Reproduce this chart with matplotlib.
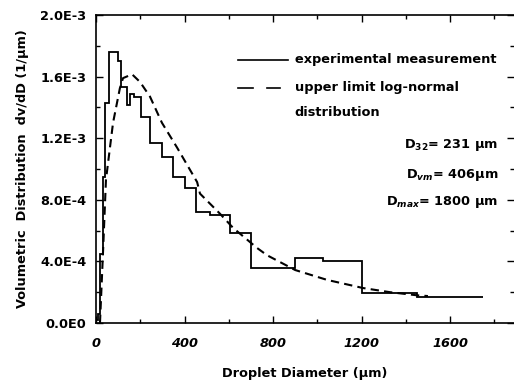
import matplotlib
matplotlib.use("Agg")
import matplotlib.pyplot as plt
from matplotlib.ticker import MultipleLocator, FuncFormatter

# measured histogram (bin edges in um, dv/dD in 1/um)
bin_edges = [0, 10, 20, 30, 41, 59, 99, 113, 140, 154, 172, 203, 244, 298,
             348, 402, 452, 515, 606, 700, 900, 1026, 1200, 1450, 1750]
bin_values = [0.02e-3, 0.06e-3, 0.45e-3, 0.95e-3, 1.43e-3, 1.76e-3, 1.70e-3,
              1.53e-3, 1.415e-3, 1.49e-3, 1.47e-3, 1.34e-3, 1.17e-3, 1.08e-3,
              0.95e-3, 0.876e-3, 0.72e-3, 0.70e-3, 0.584e-3, 0.36e-3, 0.42e-3,
              0.40e-3, 0.195e-3, 0.17e-3]

# upper limit log-normal fit
fit_d = [18, 32, 45, 77, 108, 122, 163, 199, 244, 298, 366, 457, 470, 560,
         620, 728, 773, 900, 1044, 1207, 1329, 1450, 1500]
fit_v = [0.0, 0.47e-3, 0.93e-3, 1.30e-3, 1.525e-3, 1.59e-3, 1.615e-3,
         1.565e-3, 1.47e-3, 1.30e-3, 1.14e-3, 0.915e-3, 0.84e-3, 0.71e-3,
         0.617e-3, 0.487e-3, 0.44e-3, 0.344e-3, 0.28e-3, 0.227e-3, 0.20e-3,
         0.18e-3, 0.175e-3]

y_ticks = [0.0, 4e-4, 8e-4, 1.2e-3, 1.6e-3, 2.0e-3]
y_tick_labels = ["0.0E0", "4.0E-4", "8.0E-4", "1.2E-3", "1.6E-3", "2.0E-3"]

FS = 9.3

plt.rcParams["font.family"] = "DejaVu Sans"
plt.rcParams["font.weight"] = "bold"
plt.rcParams["mathtext.fontset"] = "custom"
plt.rcParams["mathtext.rm"] = "DejaVu Sans:bold"
plt.rcParams["mathtext.it"] = "DejaVu Sans:italic:bold"

fig = plt.figure(figsize=(5.14, 3.85), dpi=100)
fig.patch.set_facecolor("white")
ax = fig.add_axes([96 / 514, 62 / 385, 418 / 514, 308 / 385])

ax.stairs(bin_values, bin_edges, baseline=None, color="black", linewidth=1.3)
ax.plot(fit_d, fit_v, color="black", linewidth=1.5, linestyle=(0, (4, 2.5)))

ax.set_xlim(0, 1889)
ax.set_ylim(0, 2.0e-3)

ax.xaxis.set_major_locator(MultipleLocator(400))
ax.xaxis.set_minor_locator(MultipleLocator(200))
ax.set_yticks(y_ticks)
ax.set_yticklabels(y_tick_labels, fontsize=FS, fontweight="bold")
ax.yaxis.set_minor_locator(MultipleLocator(2e-4))
ax.xaxis.set_major_formatter(FuncFormatter(lambda v, p: f"{v:.0f}"))
for lab in ax.get_xticklabels():
    lab.set_fontstyle("italic")
    lab.set_fontsize(FS)
    lab.set_fontweight("bold")

ax.tick_params(which="both", direction="in", top=True, right=True)
ax.tick_params(which="major", length=5, width=1)
ax.tick_params(which="minor", length=3, width=1)
ax.tick_params(axis="x", pad=10)
ax.tick_params(axis="y", pad=7)
ax.spines["right"].set_visible(False)
for s in ["left", "bottom", "top"]:
    ax.spines[s].set_linewidth(1.2)

ax.set_xlabel("Droplet Diameter (µm)", fontsize=FS, fontweight="bold", labelpad=12)
ax.set_ylabel("Volumetric  Distribution  dv/dD (1/µm)", fontsize=FS,
              fontweight="bold", labelpad=8)

# legend drawn by hand
ax.plot([0.340, 0.459], [0.854, 0.854], transform=ax.transAxes,
        color="black", linewidth=1.2)
ax.plot([0.340, 0.376], [0.763, 0.763], transform=ax.transAxes,
        color="black", linewidth=1.2)
ax.plot([0.409, 0.440], [0.763, 0.763], transform=ax.transAxes,
        color="black", linewidth=1.2)
ax.text(0.475, 0.854, "experimental measurement", transform=ax.transAxes,
        fontsize=FS, va="center")
ax.text(0.475, 0.763, "upper limit log-normal", transform=ax.transAxes,
        fontsize=FS, va="center")
ax.text(0.475, 0.685, "distribution", transform=ax.transAxes,
        fontsize=FS, va="center")

ax.text(0.962, 0.578, r"D$_{32}$= 231 µm", transform=ax.transAxes,
        fontsize=FS, ha="right", va="center")
ax.text(0.962, 0.48, r"D$_{vm}$= 406µm", transform=ax.transAxes,
        fontsize=FS, ha="right", va="center")
ax.text(0.962, 0.393, r"D$_{\mathit{max}}$= 1800 µm", transform=ax.transAxes,
        fontsize=FS, ha="right", va="center")

fig.savefig("out.png", dpi=100)
